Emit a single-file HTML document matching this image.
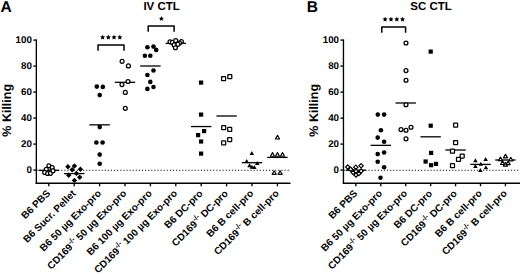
<!DOCTYPE html>
<html><head><meta charset="utf-8"><style>
html,body{margin:0;padding:0;background:#fff;}
svg{display:block;}
text{font-family:"Liberation Sans", sans-serif;font-weight:bold;fill:#000;text-rendering:geometricPrecision;}
</style></head><body>
<svg width="520" height="274" viewBox="0 0 520 274">
<rect width="520" height="274" fill="#fff"/>
<line x1="36.35" y1="39.42" x2="36.35" y2="183.93" stroke="#000" stroke-width="1.35"/>
<line x1="35.68" y1="183.25" x2="290.5" y2="183.25" stroke="#000" stroke-width="1.35"/>
<line x1="33.35" y1="170.1" x2="36.35" y2="170.1" stroke="#000" stroke-width="1.35"/>
<text x="31.95" y="173.0" text-anchor="end" font-size="9.8">0</text>
<line x1="33.35" y1="144.1" x2="36.35" y2="144.1" stroke="#000" stroke-width="1.35"/>
<text x="31.95" y="147.0" text-anchor="end" font-size="9.8">20</text>
<line x1="33.35" y1="118.1" x2="36.35" y2="118.1" stroke="#000" stroke-width="1.35"/>
<text x="31.95" y="121.0" text-anchor="end" font-size="9.8">40</text>
<line x1="33.35" y1="92.1" x2="36.35" y2="92.1" stroke="#000" stroke-width="1.35"/>
<text x="31.95" y="95.0" text-anchor="end" font-size="9.8">60</text>
<line x1="33.35" y1="66.1" x2="36.35" y2="66.1" stroke="#000" stroke-width="1.35"/>
<text x="31.95" y="69.0" text-anchor="end" font-size="9.8">80</text>
<line x1="33.35" y1="40.1" x2="36.35" y2="40.1" stroke="#000" stroke-width="1.35"/>
<text x="31.95" y="43" text-anchor="end" font-size="9.8">100</text>
<line x1="36.55" y1="170.25" x2="290.5" y2="170.25" stroke="#000" stroke-width="1.1" stroke-dasharray="1.1 2.0"/>
<line x1="48.8" y1="183.25" x2="48.8" y2="186.25" stroke="#000" stroke-width="1.35"/>
<line x1="74.2" y1="183.25" x2="74.2" y2="186.25" stroke="#000" stroke-width="1.35"/>
<line x1="99.6" y1="183.25" x2="99.6" y2="186.25" stroke="#000" stroke-width="1.35"/>
<line x1="125" y1="183.25" x2="125" y2="186.25" stroke="#000" stroke-width="1.35"/>
<line x1="150.4" y1="183.25" x2="150.4" y2="186.25" stroke="#000" stroke-width="1.35"/>
<line x1="175.8" y1="183.25" x2="175.8" y2="186.25" stroke="#000" stroke-width="1.35"/>
<line x1="201.2" y1="183.25" x2="201.2" y2="186.25" stroke="#000" stroke-width="1.35"/>
<line x1="226.6" y1="183.25" x2="226.6" y2="186.25" stroke="#000" stroke-width="1.35"/>
<line x1="252.0" y1="183.25" x2="252.0" y2="186.25" stroke="#000" stroke-width="1.35"/>
<line x1="277.4" y1="183.25" x2="277.4" y2="186.25" stroke="#000" stroke-width="1.35"/>
<line x1="38.6" y1="170.35" x2="59.0" y2="170.35" stroke="#000" stroke-width="1.3"/>
<circle cx="48.9" cy="165.7" r="1.95" fill="#fff" stroke="#000" stroke-width="1.25"/>
<circle cx="52.2" cy="167.5" r="1.95" fill="#fff" stroke="#000" stroke-width="1.25"/>
<circle cx="46.3" cy="169.3" r="1.95" fill="#fff" stroke="#000" stroke-width="1.25"/>
<circle cx="44.7" cy="172.4" r="1.95" fill="#fff" stroke="#000" stroke-width="1.25"/>
<circle cx="47.6" cy="173.5" r="1.95" fill="#fff" stroke="#000" stroke-width="1.25"/>
<circle cx="50.5" cy="173.3" r="1.95" fill="#fff" stroke="#000" stroke-width="1.25"/>
<circle cx="53.0" cy="170.8" r="1.95" fill="#fff" stroke="#000" stroke-width="1.25"/>
<line x1="64" y1="173.6" x2="84.4" y2="173.6" stroke="#000" stroke-width="1.3"/>
<path d="M67.9 164.1L70.6 166.8L67.9 169.5L65.2 166.8Z" fill="#000"/>
<path d="M74.4 163.3L77.1 166L74.4 168.7L71.7 166Z" fill="#000"/>
<path d="M72.2 167.1L74.9 169.8L72.2 172.5L69.5 169.8Z" fill="#000"/>
<path d="M80.4 166.5L83.1 169.2L80.4 171.9L77.7 169.2Z" fill="#000"/>
<path d="M68.7 172.6L71.4 175.3L68.7 178.0L66.0 175.3Z" fill="#000"/>
<path d="M76.4 170.7L79.1 173.4L76.4 176.1L73.7 173.4Z" fill="#000"/>
<path d="M79.7 174.5L82.4 177.2L79.7 179.9L77.0 177.2Z" fill="#000"/>
<path d="M74.4 177.7L77.1 180.4L74.4 183.1L71.7 180.4Z" fill="#000"/>
<line x1="89.4" y1="124.85" x2="109.8" y2="124.85" stroke="#000" stroke-width="1.3"/>
<circle cx="96.8" cy="86.6" r="2.3" fill="#000"/>
<circle cx="102.8" cy="86.9" r="2.3" fill="#000"/>
<circle cx="99.7" cy="95.1" r="2.3" fill="#000"/>
<circle cx="99.7" cy="127.1" r="2.3" fill="#000"/>
<circle cx="96.4" cy="142.5" r="2.3" fill="#000"/>
<circle cx="102.6" cy="142.5" r="2.3" fill="#000"/>
<circle cx="99.7" cy="154.6" r="2.3" fill="#000"/>
<circle cx="99.7" cy="163.7" r="2.3" fill="#000"/>
<line x1="114.8" y1="82.3" x2="135.2" y2="82.3" stroke="#000" stroke-width="1.3"/>
<circle cx="122.1" cy="61.3" r="1.95" fill="#fff" stroke="#000" stroke-width="1.25"/>
<circle cx="128.4" cy="65.9" r="1.95" fill="#fff" stroke="#000" stroke-width="1.25"/>
<circle cx="128" cy="81.5" r="1.95" fill="#fff" stroke="#000" stroke-width="1.25"/>
<circle cx="122" cy="84.6" r="1.95" fill="#fff" stroke="#000" stroke-width="1.25"/>
<circle cx="125.3" cy="92.4" r="1.95" fill="#fff" stroke="#000" stroke-width="1.25"/>
<circle cx="125.3" cy="108.3" r="1.95" fill="#fff" stroke="#000" stroke-width="1.25"/>
<line x1="140.2" y1="66.0" x2="160.6" y2="66.0" stroke="#000" stroke-width="1.3"/>
<circle cx="147.4" cy="47.3" r="2.3" fill="#000"/>
<circle cx="153.5" cy="46.6" r="2.3" fill="#000"/>
<circle cx="156.2" cy="49.9" r="2.3" fill="#000"/>
<circle cx="144.9" cy="55.8" r="2.3" fill="#000"/>
<circle cx="150.3" cy="55.8" r="2.3" fill="#000"/>
<circle cx="153.5" cy="70.5" r="2.3" fill="#000"/>
<circle cx="147.4" cy="75" r="2.3" fill="#000"/>
<circle cx="150.3" cy="81.9" r="2.3" fill="#000"/>
<circle cx="153.5" cy="87" r="2.3" fill="#000"/>
<circle cx="147.4" cy="88.9" r="2.3" fill="#000"/>
<line x1="165.6" y1="43.4" x2="186.0" y2="43.4" stroke="#000" stroke-width="1.3"/>
<circle cx="170.0" cy="41.8" r="1.95" fill="#fff" stroke="#000" stroke-width="1.25"/>
<circle cx="172.4" cy="42.4" r="1.95" fill="#fff" stroke="#000" stroke-width="1.25"/>
<circle cx="175.7" cy="40.6" r="1.95" fill="#fff" stroke="#000" stroke-width="1.25"/>
<circle cx="181.4" cy="41.5" r="1.95" fill="#fff" stroke="#000" stroke-width="1.25"/>
<circle cx="179.5" cy="43.0" r="1.95" fill="#fff" stroke="#000" stroke-width="1.25"/>
<circle cx="174.2" cy="44.9" r="1.95" fill="#fff" stroke="#000" stroke-width="1.25"/>
<circle cx="177.9" cy="44.3" r="1.95" fill="#fff" stroke="#000" stroke-width="1.25"/>
<circle cx="175.4" cy="47.7" r="1.95" fill="#fff" stroke="#000" stroke-width="1.25"/>
<line x1="191.0" y1="126.55" x2="211.4" y2="126.55" stroke="#000" stroke-width="1.3"/>
<rect x="199.0" y="80.5" width="4.2" height="4.2" fill="#000"/>
<rect x="199.0" y="112.5" width="4.2" height="4.2" fill="#000"/>
<rect x="202.0" y="129.0" width="4.2" height="4.2" fill="#000"/>
<rect x="196.0" y="133.0" width="4.2" height="4.2" fill="#000"/>
<rect x="199.0" y="139.4" width="4.2" height="4.2" fill="#000"/>
<rect x="199.0" y="151.5" width="4.2" height="4.2" fill="#000"/>
<line x1="216.4" y1="116.0" x2="236.8" y2="116.0" stroke="#000" stroke-width="1.3"/>
<rect x="221.6" y="76.6" width="4.0" height="4.0" rx="0.4" fill="#fff" stroke="#000" stroke-width="1.25"/>
<rect x="227.8" y="74.6" width="4.0" height="4.0" rx="0.4" fill="#fff" stroke="#000" stroke-width="1.25"/>
<rect x="221.7" y="125.6" width="4.0" height="4.0" rx="0.4" fill="#fff" stroke="#000" stroke-width="1.25"/>
<rect x="227.7" y="127.3" width="4.0" height="4.0" rx="0.4" fill="#fff" stroke="#000" stroke-width="1.25"/>
<rect x="227.7" y="137.5" width="4.0" height="4.0" rx="0.4" fill="#fff" stroke="#000" stroke-width="1.25"/>
<rect x="221.7" y="140.9" width="4.0" height="4.0" rx="0.4" fill="#fff" stroke="#000" stroke-width="1.25"/>
<line x1="241.8" y1="162.7" x2="262.2" y2="162.7" stroke="#000" stroke-width="1.3"/>
<path d="M251.8 150.9L254.05 154.9L249.55 154.9Z" fill="#000"/>
<path d="M246.7 159.0L248.95 163.0L244.45 163.0Z" fill="#000"/>
<path d="M257.2 160.9L259.45 164.9L254.95 164.9Z" fill="#000"/>
<path d="M249.5 163.2L251.75 167.2L247.25 167.2Z" fill="#000"/>
<path d="M251.8 164.7L254.05 168.7L249.55 168.7Z" fill="#000"/>
<path d="M254.3 165.0L256.55 169.0L252.05 169.0Z" fill="#000"/>
<line x1="267.2" y1="157.4" x2="287.6" y2="157.4" stroke="#000" stroke-width="1.3"/>
<path d="M277.5 135.35L279.55 138.95L275.45 138.95Z" fill="#fff" stroke="#000" stroke-width="1.15" stroke-linejoin="round"/>
<path d="M272.5 152.65L274.55 156.25L270.45 156.25Z" fill="#fff" stroke="#000" stroke-width="1.15" stroke-linejoin="round"/>
<path d="M277.5 152.65L279.55 156.25L275.45 156.25Z" fill="#fff" stroke="#000" stroke-width="1.15" stroke-linejoin="round"/>
<path d="M282.5 152.65L284.55 156.25L280.45 156.25Z" fill="#fff" stroke="#000" stroke-width="1.15" stroke-linejoin="round"/>
<path d="M274.2 170.75L276.25 174.35L272.15 174.35Z" fill="#fff" stroke="#000" stroke-width="1.15" stroke-linejoin="round"/>
<path d="M280.1 170.75L282.15 174.35L278.05 174.35Z" fill="#fff" stroke="#000" stroke-width="1.15" stroke-linejoin="round"/>
<text transform="translate(50.9,194.05) rotate(-45)" text-anchor="end" font-size="10">B6 PBS</text>
<text transform="translate(76.3,194.05) rotate(-45)" text-anchor="end" font-size="10">B6 Sucr. Pellet</text>
<text transform="translate(101.7,194.05) rotate(-45)" text-anchor="end" font-size="10">B6 50 µg Exo-pro</text>
<text transform="translate(127.1,194.05) rotate(-45)" text-anchor="end" font-size="10">CD169<tspan font-size="7.4" dy="-4">-/-</tspan><tspan dy="4"> </tspan>50 µg Exo-pro</text>
<text transform="translate(152.5,194.05) rotate(-45)" text-anchor="end" font-size="10">B6 100 µg Exo-pro</text>
<text transform="translate(177.9,194.05) rotate(-45)" text-anchor="end" font-size="10">CD169<tspan font-size="7.4" dy="-4">-/-</tspan><tspan dy="4"> </tspan>100 µg Exo-pro</text>
<text transform="translate(203.3,194.05) rotate(-45)" text-anchor="end" font-size="10">B6 DC-pro</text>
<text transform="translate(228.7,194.05) rotate(-45)" text-anchor="end" font-size="10">CD169<tspan font-size="7.4" dy="-4">-/-</tspan><tspan dy="4"> </tspan>DC-pro</text>
<text transform="translate(254.1,194.05) rotate(-45)" text-anchor="end" font-size="10">B6 B cell-pro</text>
<text transform="translate(279.5,194.05) rotate(-45)" text-anchor="end" font-size="10">CD169<tspan font-size="7.4" dy="-4">-/-</tspan><tspan dy="4"> </tspan>B cell-pro</text>
<text x="161.6" y="9.5" text-anchor="middle" font-size="11.5">IV CTL</text>
<text x="0.5" y="12.1" font-size="15.6">A</text>
<text transform="translate(11.3,110.3) rotate(-90)" text-anchor="middle" font-size="12.5">% Killing</text>
<line x1="343.45" y1="39.42" x2="343.45" y2="183.93" stroke="#000" stroke-width="1.35"/>
<line x1="342.77" y1="183.25" x2="520" y2="183.25" stroke="#000" stroke-width="1.35"/>
<line x1="340.45" y1="170.1" x2="343.45" y2="170.1" stroke="#000" stroke-width="1.35"/>
<text x="339.05" y="173.0" text-anchor="end" font-size="9.8">0</text>
<line x1="340.45" y1="144.1" x2="343.45" y2="144.1" stroke="#000" stroke-width="1.35"/>
<text x="339.05" y="147.0" text-anchor="end" font-size="9.8">20</text>
<line x1="340.45" y1="118.1" x2="343.45" y2="118.1" stroke="#000" stroke-width="1.35"/>
<text x="339.05" y="121.0" text-anchor="end" font-size="9.8">40</text>
<line x1="340.45" y1="92.1" x2="343.45" y2="92.1" stroke="#000" stroke-width="1.35"/>
<text x="339.05" y="95.0" text-anchor="end" font-size="9.8">60</text>
<line x1="340.45" y1="66.1" x2="343.45" y2="66.1" stroke="#000" stroke-width="1.35"/>
<text x="339.05" y="69.0" text-anchor="end" font-size="9.8">80</text>
<line x1="340.45" y1="40.1" x2="343.45" y2="40.1" stroke="#000" stroke-width="1.35"/>
<text x="339.05" y="43" text-anchor="end" font-size="9.8">100</text>
<line x1="343.65" y1="170.25" x2="520" y2="170.25" stroke="#000" stroke-width="1.1" stroke-dasharray="1.1 2.0"/>
<line x1="355.85" y1="183.25" x2="355.85" y2="186.25" stroke="#000" stroke-width="1.35"/>
<line x1="380.78" y1="183.25" x2="380.78" y2="186.25" stroke="#000" stroke-width="1.35"/>
<line x1="405.71" y1="183.25" x2="405.71" y2="186.25" stroke="#000" stroke-width="1.35"/>
<line x1="430.64" y1="183.25" x2="430.64" y2="186.25" stroke="#000" stroke-width="1.35"/>
<line x1="455.57" y1="183.25" x2="455.57" y2="186.25" stroke="#000" stroke-width="1.35"/>
<line x1="480.5" y1="183.25" x2="480.5" y2="186.25" stroke="#000" stroke-width="1.35"/>
<line x1="505.43" y1="183.25" x2="505.43" y2="186.25" stroke="#000" stroke-width="1.35"/>
<line x1="345.65" y1="170.2" x2="366.05" y2="170.2" stroke="#000" stroke-width="1.3"/>
<path d="M347.7 164.85L349.85 167.0L347.7 169.15L345.55 167.0Z" fill="#fff" stroke="#000" stroke-width="1.2"/>
<path d="M350.7 167.15L352.85 169.3L350.7 171.45L348.55 169.3Z" fill="#fff" stroke="#000" stroke-width="1.2"/>
<path d="M355.8 165.05L357.95 167.2L355.8 169.35L353.65 167.2Z" fill="#fff" stroke="#000" stroke-width="1.2"/>
<path d="M361.1 163.65L363.25 165.8L361.1 167.95L358.95 165.8Z" fill="#fff" stroke="#000" stroke-width="1.2"/>
<path d="M353.2 170.25L355.35 172.4L353.2 174.55L351.05 172.4Z" fill="#fff" stroke="#000" stroke-width="1.2"/>
<path d="M356 172.75L358.15 174.9L356 177.05L353.85 174.9Z" fill="#fff" stroke="#000" stroke-width="1.2"/>
<path d="M358.9 171.45L361.05 173.6L358.9 175.75L356.75 173.6Z" fill="#fff" stroke="#000" stroke-width="1.2"/>
<path d="M361.1 168.95L363.25 171.1L361.1 173.25L358.95 171.1Z" fill="#fff" stroke="#000" stroke-width="1.2"/>
<path d="M356 169.05L358.15 171.2L356 173.35L353.85 171.2Z" fill="#fff" stroke="#000" stroke-width="1.2"/>
<line x1="370.58" y1="145.35" x2="390.98" y2="145.35" stroke="#000" stroke-width="1.3"/>
<circle cx="377.8" cy="114.6" r="2.3" fill="#000"/>
<circle cx="384.1" cy="114.6" r="2.3" fill="#000"/>
<circle cx="380.9" cy="130.2" r="2.3" fill="#000"/>
<circle cx="377.7" cy="137.6" r="2.3" fill="#000"/>
<circle cx="384.1" cy="141.7" r="2.3" fill="#000"/>
<circle cx="377.7" cy="154.1" r="2.3" fill="#000"/>
<circle cx="384.1" cy="152.5" r="2.3" fill="#000"/>
<circle cx="377.7" cy="161.8" r="2.3" fill="#000"/>
<circle cx="384.1" cy="167.2" r="2.3" fill="#000"/>
<circle cx="380.5" cy="177.8" r="2.3" fill="#000"/>
<line x1="395.51" y1="103.0" x2="415.91" y2="103.0" stroke="#000" stroke-width="1.3"/>
<circle cx="406" cy="43" r="1.95" fill="#fff" stroke="#000" stroke-width="1.25"/>
<circle cx="406" cy="70.6" r="1.95" fill="#fff" stroke="#000" stroke-width="1.25"/>
<circle cx="406" cy="80.2" r="1.95" fill="#fff" stroke="#000" stroke-width="1.25"/>
<circle cx="406" cy="104.7" r="1.95" fill="#fff" stroke="#000" stroke-width="1.25"/>
<circle cx="411" cy="127.2" r="1.95" fill="#fff" stroke="#000" stroke-width="1.25"/>
<circle cx="401" cy="129.6" r="1.95" fill="#fff" stroke="#000" stroke-width="1.25"/>
<circle cx="406" cy="130.2" r="1.95" fill="#fff" stroke="#000" stroke-width="1.25"/>
<circle cx="406" cy="138.8" r="1.95" fill="#fff" stroke="#000" stroke-width="1.25"/>
<line x1="420.44" y1="136.8" x2="440.84" y2="136.8" stroke="#000" stroke-width="1.3"/>
<rect x="428.6" y="49.5" width="4.2" height="4.2" fill="#000"/>
<rect x="428.6" y="123.6" width="4.2" height="4.2" fill="#000"/>
<rect x="429.0" y="150.8" width="4.2" height="4.2" fill="#000"/>
<rect x="423.5" y="159.4" width="4.2" height="4.2" fill="#000"/>
<rect x="429.0" y="163.1" width="4.2" height="4.2" fill="#000"/>
<rect x="433.9" y="161.8" width="4.2" height="4.2" fill="#000"/>
<line x1="445.37" y1="150.0" x2="465.77" y2="150.0" stroke="#000" stroke-width="1.3"/>
<rect x="453.6" y="123.1" width="4.0" height="4.0" rx="0.4" fill="#fff" stroke="#000" stroke-width="1.25"/>
<rect x="453.6" y="140.7" width="4.0" height="4.0" rx="0.4" fill="#fff" stroke="#000" stroke-width="1.25"/>
<rect x="450.5" y="149.1" width="4.0" height="4.0" rx="0.4" fill="#fff" stroke="#000" stroke-width="1.25"/>
<rect x="460.2" y="154.0" width="4.0" height="4.0" rx="0.4" fill="#fff" stroke="#000" stroke-width="1.25"/>
<rect x="456.5" y="157.3" width="4.0" height="4.0" rx="0.4" fill="#fff" stroke="#000" stroke-width="1.25"/>
<rect x="450.5" y="163.7" width="4.0" height="4.0" rx="0.4" fill="#fff" stroke="#000" stroke-width="1.25"/>
<line x1="470.3" y1="164.4" x2="490.7" y2="164.4" stroke="#000" stroke-width="1.3"/>
<path d="M475.4 158.2L477.65 162.2L473.15 162.2Z" fill="#000"/>
<path d="M485.6 156.9L487.85 160.9L483.35 160.9Z" fill="#000"/>
<path d="M480.8 161.8L483.05 165.8L478.55 165.8Z" fill="#000"/>
<path d="M475.4 164.0L477.65 168.0L473.15 168.0Z" fill="#000"/>
<path d="M485.9 165.3L488.15 169.3L483.65 169.3Z" fill="#000"/>
<path d="M480.4 168.1L482.65 172.1L478.15 172.1Z" fill="#000"/>
<line x1="495.23" y1="160.0" x2="515.63" y2="160.0" stroke="#000" stroke-width="1.3"/>
<path d="M505.5 154.25L507.55 157.85L503.45 157.85Z" fill="#fff" stroke="#000" stroke-width="1.15" stroke-linejoin="round"/>
<path d="M500.5 157.05L502.55 160.65L498.45 160.65Z" fill="#fff" stroke="#000" stroke-width="1.15" stroke-linejoin="round"/>
<path d="M510.8 157.25L512.85 160.85L508.75 160.85Z" fill="#fff" stroke="#000" stroke-width="1.15" stroke-linejoin="round"/>
<path d="M502.6 160.85L504.65 164.45L500.55 164.45Z" fill="#fff" stroke="#000" stroke-width="1.15" stroke-linejoin="round"/>
<path d="M505.4 162.45L507.45 166.05L503.35 166.05Z" fill="#fff" stroke="#000" stroke-width="1.15" stroke-linejoin="round"/>
<path d="M508.1 161.05L510.15 164.65L506.05 164.65Z" fill="#fff" stroke="#000" stroke-width="1.15" stroke-linejoin="round"/>
<text transform="translate(357.95,194.05) rotate(-45)" text-anchor="end" font-size="10">B6 PBS</text>
<text transform="translate(382.88,194.05) rotate(-45)" text-anchor="end" font-size="10">B6 50 µg Exo-pro</text>
<text transform="translate(407.81,194.05) rotate(-45)" text-anchor="end" font-size="10">CD169<tspan font-size="7.4" dy="-4">-/-</tspan><tspan dy="4"> </tspan>50 µg Exo-pro</text>
<text transform="translate(432.74,194.05) rotate(-45)" text-anchor="end" font-size="10">B6 DC-pro</text>
<text transform="translate(457.67,194.05) rotate(-45)" text-anchor="end" font-size="10">CD169<tspan font-size="7.4" dy="-4">-/-</tspan><tspan dy="4"> </tspan>DC-pro</text>
<text transform="translate(482.6,194.05) rotate(-45)" text-anchor="end" font-size="10">B6 B cell-pro</text>
<text transform="translate(507.53,194.05) rotate(-45)" text-anchor="end" font-size="10">CD169<tspan font-size="7.4" dy="-4">-/-</tspan><tspan dy="4"> </tspan>B cell-pro</text>
<text x="431" y="9.5" text-anchor="middle" font-size="11.5">SC CTL</text>
<text x="306.8" y="12.1" font-size="15.6">B</text>
<text transform="translate(318.2,110.3) rotate(-90)" text-anchor="middle" font-size="12.5">% Killing</text>
<path d="M98.05 50.7V45.0H124.0V50.7" fill="none" stroke="#000" stroke-width="1.5" stroke-linejoin="round"/>
<path d="M148.2 31.7V26.0H174.1V31.7" fill="none" stroke="#000" stroke-width="1.5" stroke-linejoin="round"/>
<path d="M381.8 32.8V27.1H405.6V32.8" fill="none" stroke="#000" stroke-width="1.5" stroke-linejoin="round"/>
<polygon points="102.60,34.80 103.36,36.35 105.07,36.60 103.84,37.80 104.13,39.50 102.60,38.70 101.07,39.50 101.36,37.80 100.13,36.60 101.84,36.35" fill="#000"/>
<polygon points="108.30,34.80 109.06,36.35 110.77,36.60 109.54,37.80 109.83,39.50 108.30,38.70 106.77,39.50 107.06,37.80 105.83,36.60 107.54,36.35" fill="#000"/>
<polygon points="114.05,34.80 114.81,36.35 116.52,36.60 115.29,37.80 115.58,39.50 114.05,38.70 112.52,39.50 112.81,37.80 111.58,36.60 113.29,36.35" fill="#000"/>
<polygon points="119.80,34.80 120.56,36.35 122.27,36.60 121.04,37.80 121.33,39.50 119.80,38.70 118.27,39.50 118.56,37.80 117.33,36.60 119.04,36.35" fill="#000"/>
<polygon points="161.40,16.10 162.16,17.65 163.87,17.90 162.64,19.10 162.93,20.80 161.40,20.00 159.87,20.80 160.16,19.10 158.93,17.90 160.64,17.65" fill="#000"/>
<polygon points="385.10,16.80 385.86,18.35 387.57,18.60 386.34,19.80 386.63,21.50 385.10,20.70 383.57,21.50 383.86,19.80 382.63,18.60 384.34,18.35" fill="#000"/>
<polygon points="391.00,16.80 391.76,18.35 393.47,18.60 392.24,19.80 392.53,21.50 391.00,20.70 389.47,21.50 389.76,19.80 388.53,18.60 390.24,18.35" fill="#000"/>
<polygon points="396.80,16.80 397.56,18.35 399.27,18.60 398.04,19.80 398.33,21.50 396.80,20.70 395.27,21.50 395.56,19.80 394.33,18.60 396.04,18.35" fill="#000"/>
<polygon points="402.50,16.80 403.26,18.35 404.97,18.60 403.74,19.80 404.03,21.50 402.50,20.70 400.97,21.50 401.26,19.80 400.03,18.60 401.74,18.35" fill="#000"/>
</svg>
</body></html>
